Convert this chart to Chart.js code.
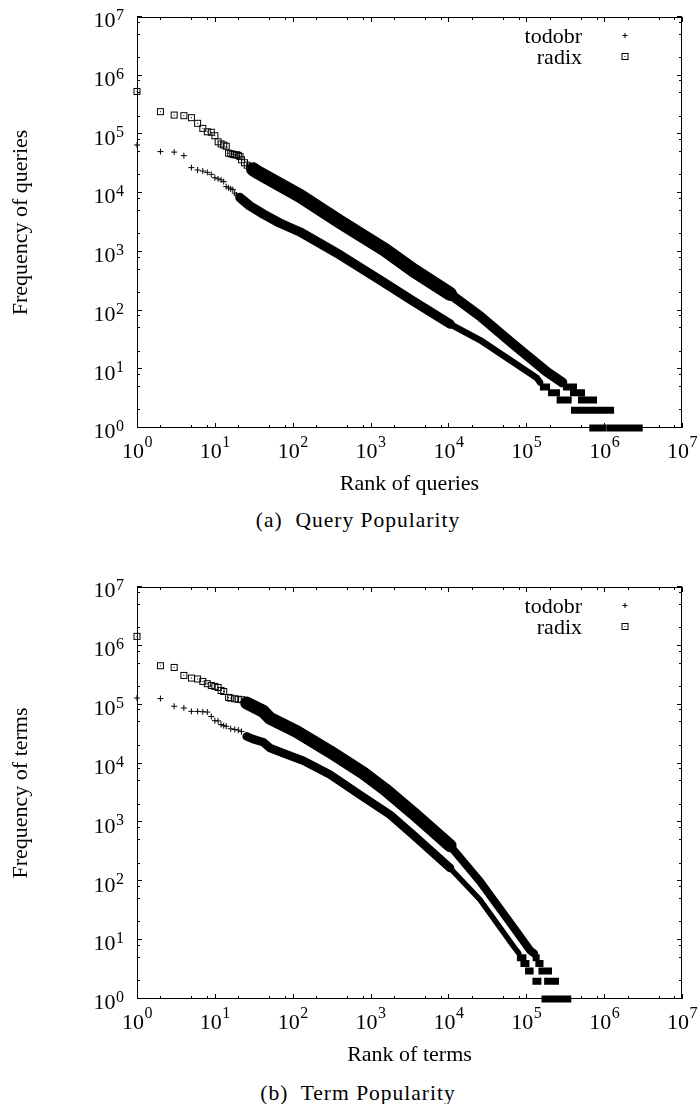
<!DOCTYPE html>
<html>
<head>
<meta charset="utf-8">
<script src="https://cdn.jsdelivr.net/npm/chart.js@4.4.0/dist/chart.umd.min.js"></script>
<style>
html, body { margin: 0; padding: 0; background: #fff; }
#page { position: relative; width: 698px; height: 1104px; }
canvas { position: absolute; left: 0; }
.caption {
    position: absolute; left: 208px; width: 300px; height: 30px; line-height: 30px;
    text-align: center; white-space: pre; font-family: "Liberation Serif", serif;
    font-size: 21.5px; letter-spacing: 1px; color: #000;
}
</style>
</head>
<body>
<div id="page">
    <canvas id="queryChart" width="698" height="500" style="top:0"></canvas>
    <div class="caption" style="top:505px">(a)  Query Popularity</div>
    <canvas id="termChart" width="698" height="501" style="top:570px"></canvas>
    <div class="caption" style="top:1078px">(b)  Term Popularity</div>
</div>
<script>
// axis decades and minor tick multipliers
const decadeExponents = [0, 1, 2, 3, 4, 5, 6, 7];
const minorSteps = [2, 5, 8];

// (a) queries: [rank, frequency]
const queryTodobrHead = [[1, 6.6e4], [2, 5.1e4], [3, 5.0e4], [4, 4.35e4], [5, 2.72e4], [6, 2.48e4], [7, 2.38e4],
    [8, 2.26e4], [9, 2.09e4], [10, 1.83e4], [11, 1.75e4], [12, 1.68e4], [13, 1.57e4], [14, 1.29e4], [15, 1.23e4],
    [16, 1.18e4], [17, 1.15e4], [18, 1.0e4], [19, 9.3e3]];
const queryTodobrBand = [[21, 8.4e3], [28, 6.1e3], [42, 4.4e3], [68, 3.1e3], [124, 2.18e3], [405, 885], [1321, 332],
    [3505, 146], [1.05e4, 59], [2.54e4, 31.5], [6.75e4, 13.3], [1.37e5, 7.1], [1.5e5, 6]];
// [frequency, first rank, last rank]
const queryTodobrTail = [[5, 1.66e5, 1.82e5], [4, 2.11e5, 2.44e5], [3, 2.72e5, 3.45e5], [2, 4.16e5, 6.88e5],
    [1, 7.15e5, 9.7e5]];

const queryRadixHead = [[1, 5.4e5], [2, 2.44e5], [3, 2.14e5], [4, 2.09e5], [5, 1.93e5], [6, 1.55e5], [7, 1.27e5],
    [8, 1.11e5], [9, 1.09e5], [10, 9.5e4], [11, 7.5e4], [12, 6.9e4], [13, 6.6e4], [14, 6.3e4], [15, 4.8e4],
    [16, 4.7e4], [17, 4.6e4], [18, 4.5e4], [19, 4.5e4], [20, 4.4e4], [21, 4.2e4], [22, 3.7e4], [24, 3.3e4],
    [26, 3.0e4], [28, 2.8e4]];
const queryRadixBand = [[31, 2.55e4], [35, 2.29e4], [124, 8.95e3], [405, 3.23e3], [1532, 1.08e3], [3505, 491],
    [1.05e4, 192], [2.54e4, 81], [6.75e4, 27], [1.84e5, 9], [2.9e5, 6]];
const queryRadixTail = [[5, 3.28e5, 4.04e5], [4, 4.04e5, 5.12e5], [3, 5.12e5, 7.3e5], [2, 8.45e5, 1.21e6],
    [1, 1.2e6, 2.82e6]];

// (b) terms
const termTodobrHead = [[1, 1.3e5], [2, 1.27e5], [3, 9.4e4], [4, 8.8e4], [5, 7.7e4], [6, 7.7e4], [7, 7.6e4],
    [8, 7.5e4], [9, 6.3e4], [10, 5.35e4], [11, 5.3e4], [12, 4.6e4], [13, 4.4e4], [14, 4.3e4], [16, 3.9e4],
    [18, 3.8e4], [20, 3.7e4], [22, 3.5e4]];
const termTodobrBand = [[25.6, 2.9e4], [31, 2.6e4], [42, 2.3e4], [51, 1.84e4], [76, 1.5e4], [137, 1.12e4],
    [300, 6.5e3], [805, 2.7e3], [1780, 1.35e3], [3505, 618], [1.05e4, 168], [2.54e4, 48.7], [6.75e4, 8.1], [8.0e4, 6]];
const termTodobrTail = [[5, 8.4e4, 9.06e4], [4, 9.33e4, 9.9e4], [3, 1.07e5, 1.12e5], [2, 1.33e5, 1.41e5],
    [1, 1.74e5, 2.01e5]];

const termRadixHead = [[1, 1.45e6], [2, 4.6e5], [3, 4.3e5], [4, 3.15e5], [5, 2.84e5], [6, 2.74e5], [7, 2.49e5],
    [8, 2.28e5], [9, 2.13e5], [10, 2.05e5], [11, 1.97e5], [12, 1.75e5], [13, 1.68e5], [15, 1.33e5], [16, 1.3e5],
    [18, 1.26e5], [20, 1.24e5], [22, 1.22e5]];
const termRadixBand = [[25.6, 1.07e5], [42, 7.7e4], [51, 5.9e4], [112, 3.5e4], [300, 1.6e4], [805, 6.9e3],
    [1530, 3.65e3], [3505, 1.45e3], [1.05e4, 402], [2.54e4, 99.5], [6.75e4, 17], [1.12e5, 6.7], [1.25e5, 6]];
const termRadixTail = [[5, 1.34e5, 1.36e5], [4, 1.45e5, 1.5e5], [3, 1.59e5, 1.93e5], [2, 1.88e5, 2.37e5],
    [1, 2.44e5, 3.41e5]];


const FONT = '"Liberation Serif", serif';
Chart.defaults.color = '#000';
Chart.defaults.font.family = FONT;

const toPoints = pairs => pairs.map(([x, y]) => ({x, y}));
const tailPoints = rows => rows.flatMap(([f, a, b]) => [{x: a, y: f}, {x: b, y: f}, {x: b, y: null}]);

function squareMarker() {
    const c = document.createElement('canvas');
    c.width = 9;
    c.height = 9;
    const g = c.getContext('2d');
    g.strokeStyle = '#000';
    g.lineWidth = 1;
    g.strokeRect(1.5, 1.5, 6, 6);
    g.fillStyle = '#000';
    g.fillRect(4, 4, 1, 1);
    return c;
}
const boxDot = squareMarker();

function drawPlus(ctx, x, y, r) {
    ctx.beginPath();
    ctx.moveTo(x - r, y); ctx.lineTo(x + r, y);
    ctx.moveTo(x, y - r); ctx.lineTo(x, y + r);
    ctx.stroke();
}

const axisFrame = {
    id: 'axisFrame',
    beforeDatasetsDraw(chart) {
        const {ctx, chartArea: a, scales: {x, y}} = chart;
        ctx.save();
        ctx.strokeStyle = '#000';
        ctx.lineWidth = 1;
        ctx.strokeRect(a.left + 0.5, a.top + 0.5, a.right - a.left - 1, a.bottom - a.top - 1);
        ctx.beginPath();
        decadeExponents.forEach(k => {
            [1, ...minorSteps].forEach(m => {
                const v = m * Math.pow(10, k);
                if (v > 1e7) return;
                const len = m === 1 ? 5 : 3;
                const px = Math.round(x.getPixelForValue(v)) + 0.5;
                ctx.moveTo(px, a.bottom); ctx.lineTo(px, a.bottom - len);
                ctx.moveTo(px, a.top); ctx.lineTo(px, a.top + len);
                const py = Math.round(y.getPixelForValue(v)) - 0.5;
                ctx.moveTo(a.left, py); ctx.lineTo(a.left + len, py);
                ctx.moveTo(a.right, py); ctx.lineTo(a.right - len, py);
            });
        });
        ctx.stroke();
        ctx.restore();
    },
    afterDraw(chart) {
        const {ctx, chartArea: a, scales: {x, y}} = chart;
        ctx.save();
        ctx.fillStyle = '#000';
        ctx.textBaseline = 'alphabetic';
        const big = '22px ' + FONT, small = '16px ' + FONT;
        decadeExponents.forEach(k => {
            const v = Math.pow(10, k);
            ctx.font = big;
            const w10 = ctx.measureText('10').width;
            ctx.font = small;
            const we = ctx.measureText(String(k)).width;

            // x axis label
            const start = x.getPixelForValue(v) - (w10 + we) / 2;
            ctx.textAlign = 'left';
            ctx.font = big;
            ctx.fillText('10', start, a.bottom + 30.3);
            ctx.font = small;
            ctx.fillText(String(k), start + w10 + 0.5, a.bottom + 18.7);

            // y axis label
            const py = y.getPixelForValue(v);
            ctx.textAlign = 'right';
            ctx.font = small;
            ctx.fillText(String(k), 124, py + 3);
            ctx.font = big;
            ctx.fillText('10', 124 - we - 0.5, py + 10.3);
        });

        // key
        ctx.font = big;
        ctx.textAlign = 'right';
        ctx.strokeStyle = '#000';
        ctx.lineWidth = 1;
        chart.data.datasets.filter(d => d.inKey).forEach((d, i) => {
            ctx.fillText(d.label, a.right - 100, a.top + 26 + i * 20.6);
            const mx = a.right - 57, my = a.top + 18.5 + i * 21;
            if (d.pointStyle === 'cross') drawPlus(ctx, mx, my, 2.5);
            else ctx.drawImage(boxDot, mx - 4.5, my - 4.5);
        });
        ctx.restore();
    }
};

// band stroke is thinner past rank 10^4, where the marks thin out
const bandWidth = (wide, thin) => ({borderWidth: c => (c.p0.parsed.x >= 1e4 ? thin : wide)});

function makeChart(canvasId, xTitle, yTitle, series, widths) {
    const [todobrHead, todobrBand, todobrTail, radixHead, radixBand, radixTail] = series;
    return new Chart(document.getElementById(canvasId), {
        type: 'scatter',
        data: {
            datasets: [
                {label: 'todobr', inKey: true, data: toPoints(todobrHead), pointStyle: 'cross', pointRadius: 3,
                    borderColor: '#000', borderWidth: 1, showLine: false, clip: false},
                {label: 'radix', inKey: true, data: toPoints(radixHead), pointStyle: boxDot, pointRadius: 4.5,
                    borderColor: '#000', showLine: false, clip: false},
                {label: 'todobr band', data: toPoints(todobrBand), showLine: true, pointRadius: 0,
                    borderColor: '#000', borderWidth: widths[0], borderJoinStyle: 'round', borderCapStyle: 'round',
                    segment: bandWidth(widths[0], widths[1])},
                {label: 'radix band', data: toPoints(radixBand), showLine: true, pointRadius: 0,
                    borderColor: '#000', borderWidth: widths[2], borderJoinStyle: 'round', borderCapStyle: 'round',
                    segment: bandWidth(widths[2], widths[3])},
                {label: 'todobr tail', data: tailPoints(todobrTail), showLine: true, spanGaps: false, pointRadius: 0,
                    borderColor: '#000', borderWidth: 7, borderCapStyle: 'square', clip: false},
                {label: 'radix tail', data: tailPoints(radixTail), showLine: true, spanGaps: false, pointRadius: 0,
                    borderColor: '#000', borderWidth: 7, borderCapStyle: 'square', clip: false}
            ]
        },
        options: {
            responsive: false,
            animation: false,
            events: [],
            layout: {padding: {top: 17, right: 16, left: 0, bottom: 0}},
            plugins: {legend: {display: false}, tooltip: {enabled: false}},
            scales: {
                x: {
                    type: 'logarithmic', position: 'bottom', min: 1, max: 1e7,
                    grid: {display: false, drawTicks: false}, border: {display: false},
                    ticks: {display: false},
                    title: {display: true, text: xTitle, color: '#000', font: {family: FONT, size: 22},
                        padding: {top: 0, bottom: 3}},
                    afterFit: s => { s.height = 72; }
                },
                y: {
                    type: 'logarithmic', position: 'left', min: 1, max: 1e7,
                    grid: {display: false, drawTicks: false}, border: {display: false},
                    ticks: {display: false},
                    title: {display: true, text: yTitle, color: '#000', font: {family: FONT, size: 22},
                        padding: {top: 8, bottom: 0}},
                    afterFit: s => { s.width = 137; }
                }
            }
        },
        plugins: [axisFrame]
    });
}

makeChart('queryChart', 'Rank of queries', 'Frequency of queries',
    [queryTodobrHead, queryTodobrBand, queryTodobrTail, queryRadixHead, queryRadixBand, queryRadixTail],
    [9.5, 6.5, 14, 10]);
makeChart('termChart', 'Rank of terms', 'Frequency of terms',
    [termTodobrHead, termTodobrBand, termTodobrTail, termRadixHead, termRadixBand, termRadixTail],
    [8.5, 5.5, 13, 8]);
</script>
</body>
</html>
